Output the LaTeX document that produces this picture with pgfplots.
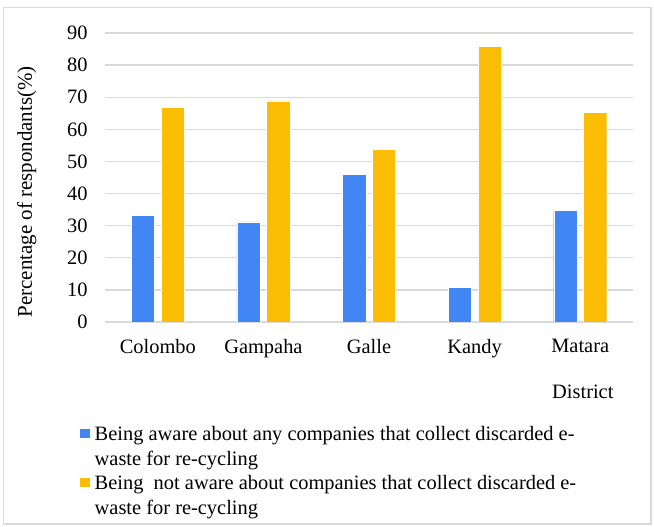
\documentclass[border=0pt]{standalone}
\usepackage{pgfplots}
\pgfplotsset{compat=1.18}
\usepackage{fontspec}
\setmainfont{Liberation Serif}
\definecolor{cblue}{HTML}{4285F4}
\definecolor{cyellow}{HTML}{FBBC04}
\definecolor{cgrid}{HTML}{D9D9D9}
\begin{document}
\begin{tikzpicture}[font=\fontsize{20.5}{25}\selectfont]
\useasboundingbox (0,0) rectangle (654bp,527bp);
\draw[cgrid, line width=1.2bp] (3.3bp,3bp) rectangle (651bp,519.5bp);
\begin{axis}[
  at={(105bp,205bp)}, anchor=south west,
  scale only axis, width=528bp, height=289bp,
  ymin=0, ymax=90, ytick={0,10,...,90},
  xmin=-0.5, xmax=4.5,
  xtick={0,1,2,3,4},
  xticklabels={Colombo,Gampaha,Galle,Kandy,Matara},
  axis line style={draw=none},
  major tick length=0,
  ymajorgrids, grid style={cgrid, line width=1.3bp},
  /pgf/number format/assume math mode=true,
  yticklabel style={xshift=-14bp},
  xticklabel style={yshift=-14bp},
  ybar=6.4bp, bar width=23.3bp,
  xlabel={District},
  xlabel style={at={(axis description cs:0.905,-0.241)}, anchor=center},
  ylabel={\fontsize{21}{25}\selectfont Percentage of respondants(\%)},
  ylabel style={at={(axis description cs:-0.148,0.45)}, anchor=center},
  legend style={draw=none, fill=none, at={(axis description cs:-0.049,-0.362)}, anchor=north west,
    row sep=8bp, column sep=4bp, inner sep=0pt, nodes={inner sep=0pt},
    cells={align=left}},
  legend cell align=left,
  legend image code/.code={\path[fill=none, draw=none] (0bp,-20bp) rectangle (11bp,20bp);
    \fill[#1] (0bp,8.5bp) rectangle (11bp,18.5bp);},
]
\addplot[fill=cblue, draw=white, line width=0.4bp] coordinates {(0,33.2) (1,31.2) (2,46.0) (3,10.7) (4,34.7)};
\addplot[fill=cyellow, draw=white, line width=0.4bp] coordinates {(0,66.8) (1,68.9) (2,53.7) (3,85.8) (4,65.3)};
\legend{Being aware about any companies that collect discarded e-\\waste for re-cycling,
  Being\ \ not aware about companies that collect discarded e-\\waste for re-cycling}
\end{axis}
\end{tikzpicture}
\end{document}
